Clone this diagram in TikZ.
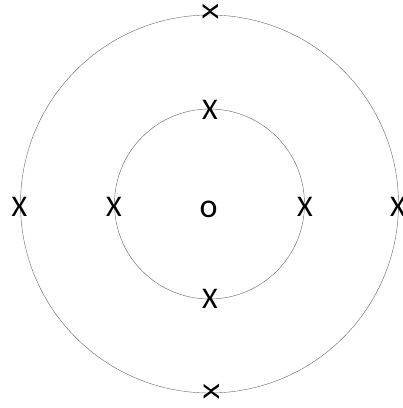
\documentclass[tikz,border=0pt]{standalone}
\usepackage{fontspec}
\setmainfont{Carlito}
\begin{document}
\begin{tikzpicture}[x=1pt,y=1pt,
  ring/.style={draw=black!60,line width=0.4pt},
  xlabel/.style={inner sep=0pt,font=\fontsize{30}{32}\selectfont},
  olabel/.style={inner sep=0pt,font=\fontsize{34}{36}\selectfont},
  xlabelrot/.style={inner sep=0pt,font=\fontsize{30}{32}\selectfont,rotate=90,yscale=0.8}]
\useasboundingbox (0,0) rectangle (403,408);
\coordinate (c) at (209.5,204);
\draw[ring] (c) circle[radius=189];
\draw[ring] (c) circle[radius=95];
\node[olabel] (o) at (208.5,199) {o};
\node[xlabel] (il) at (114,201) {X};
\node[xlabel] (ir) at (305,201) {X};
\node[xlabel] (it) at (210,298) {X};
\node[xlabel] (ib) at (210,109) {X};
\node[xlabel] (ol) at (19.5,201) {X};
\node[xlabel] (or) at (398,201) {X};
\node[xlabelrot] (ot) at (211,396) {X};
\node[xlabelrot] (ob) at (212,16) {X};
\end{tikzpicture}
\end{document}
